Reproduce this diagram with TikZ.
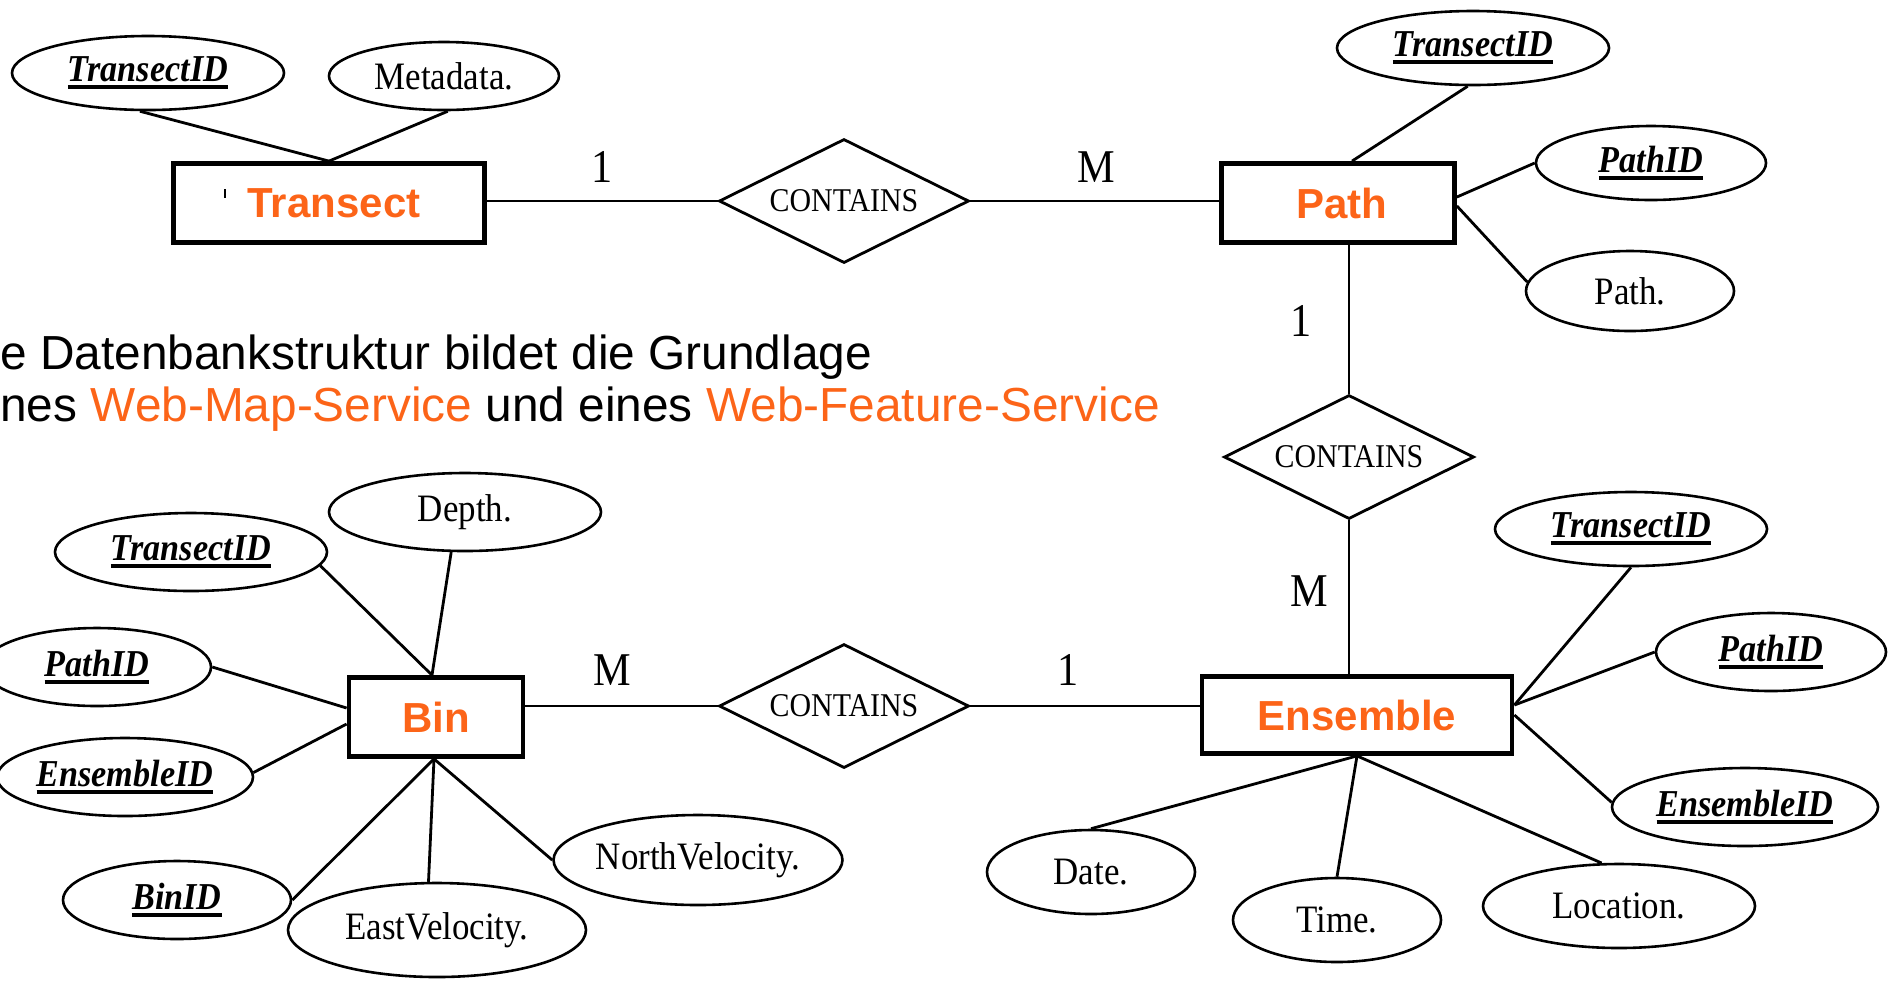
\documentclass[tikz,border=0pt]{standalone}
\usepackage{fontspec}
\setmainfont[FakeStretch=0.9]{Liberation Serif}
\newfontfamily\arialfont{Liberation Sans}
\usetikzlibrary{shapes.geometric}
\definecolor{entorange}{RGB}{252,100,24}

% thick underline for key attributes
\newcommand\keyul[1]{\setbox0\hbox{#1}\rlap{\rule[-3.8pt]{\wd0}{2pt}}\box0}

\begin{document}
\begin{tikzpicture}[x=0.5pt,y=-0.5pt,
  attr/.style={ellipse, draw, line width=1.3pt, inner sep=0pt,
    font=\fontsize{19.4}{22}\selectfont},
  key/.style={attr, font=\fontsize{19}{22}\selectfont\bfseries\itshape},
  entity/.style={rectangle, draw, line width=2.4pt, inner sep=0pt,
    font=\arialfont\bfseries\fontsize{21}{24}\selectfont, text=entorange},
  rel/.style={diamond, draw, line width=1.4pt, aspect=2, inner sep=0pt,
    minimum width=125pt, minimum height=62pt,
    font=\fontsize{16.6}{18}\selectfont},
  card/.style={inner sep=0pt, font=\fontsize{23.5}{26}\selectfont},
  link/.style={line width=1.4pt},
  bodytext/.style={anchor=base west, inner sep=0pt,
    font=\arialfont\fontsize{23.9}{26}\selectfont}]
\useasboundingbox (0,0) rectangle (1899,987);

% ---- entities ----
\node[entity, minimum width=155.5pt, minimum height=39.5pt] (transect) at (329,203) {\hspace{5pt}Transect};
\node[entity, minimum width=116.5pt, minimum height=39.5pt] (path) at (1338,203) {\hspace{4pt}Path};
\node[entity, minimum width=155pt, minimum height=38.5pt] (ens) at (1357,715) {Ensemble\hspace{6pt}};
\node[entity, minimum width=87pt, minimum height=39.5pt] (bin) at (436,717) {Bin\hspace{6pt}};
\draw[line width=0.6pt] (transect.center) ++(-104,-14) coordinate (tick) -- ++(0,9);

% ---- relationships ----
\node[rel] (rel1) at (844,201) {CONTAINS};
\node[rel] (rel2) at (1349,457) {CONTAINS};
\node[rel] (rel3) at (844,706) {CONTAINS};

% ---- attributes: Transect ----
\node[key, minimum width=136pt, minimum height=37pt] (ttid) at (148,73) {\keyul{TransectID}};
\node[attr, minimum width=115pt, minimum height=34pt] (tmeta) at (444,76) {Metadata.};

% ---- attributes: Path ----
\node[key, minimum width=136pt, minimum height=37pt] (ptid) at (1473,48) {\keyul{TransectID}};
\node[key, minimum width=115pt, minimum height=37pt] (ppid) at (1651,163) {\keyul{PathID}};
\node[attr, minimum width=104pt, minimum height=40pt] (ppath) at (1630,291) {Path.};

% ---- attributes: Ensemble ----
\node[key, minimum width=136pt, minimum height=37pt] (etid) at (1631,529) {\keyul{TransectID}};
\node[key, minimum width=115pt, minimum height=39pt] (epid) at (1771,652) {\keyul{PathID}};
\node[key, minimum width=133pt, minimum height=39pt] (eeid) at (1745,807) {\keyul{EnsembleID}};
\node[attr, minimum width=104pt, minimum height=42pt] (edate) at (1091,872) {Date.};
\node[attr, minimum width=104pt, minimum height=42pt] (etime) at (1337,920) {Time.};
\node[attr, minimum width=136pt, minimum height=42pt] (eloc) at (1619,906) {Location.};

% ---- attributes: Bin ----
\node[attr, minimum width=136pt, minimum height=39pt] (bdepth) at (465,512) {Depth.};
\node[key, minimum width=136pt, minimum height=39pt] (btid) at (191,552) {\keyul{TransectID}};
\node[key, minimum width=114pt, minimum height=39pt] (bpid) at (97,667) {\keyul{PathID}};
\node[key, minimum width=128pt, minimum height=39pt] (beid) at (125,777) {\keyul{EnsembleID}};
\node[key, minimum width=114pt, minimum height=39pt] (bbid) at (177,900) {\keyul{BinID}};
\node[attr, minimum width=149pt, minimum height=47pt] (beast) at (437,930) {EastVelocity.};
\node[attr, minimum width=143pt, minimum height=45pt] (bnorth) at (698,860) {NorthVelocity.};

% ---- relationship connectors ----
\draw[link] (rel1.west) -- (rel1.west -| transect.east);
\draw[link] (rel1.east) -- (rel1.east -| path.west);
\draw[link] (rel2.north) -- (rel2.north |- path.south);
\draw[link] (rel2.south) -- (rel2.south |- ens.north);
\draw[link] (rel3.west) -- (rel3.west -| bin.east);
\draw[link] (rel3.east) -- (rel3.east -| ens.west);

% ---- cardinalities ----
\node[card] (c1) at (602,167) {1};
\node[card] (c2) at (1096,167) {M};
\node[card] (c3) at (1301,321) {1};
\node[card] (c4) at (1309,591) {M};
\node[card] (c5) at (1068,670) {1};
\node[card] (c6) at (612,670) {M};

% ---- attribute connectors ----
\draw[link] (ttid.258) -- (transect.north);
\draw[link] (tmeta.276) -- (transect.north);
\draw[link] (ptid.262) -- ([xshift=7pt]path.north);
\draw[link] (ppid.west) -- ([yshift=3pt]path.east);
\draw[link] (ppath.175) -- ([yshift=-1.5pt]path.east);
\draw[link] (etid.south) -- ([yshift=5pt]ens.east);
\draw[link] (epid.west) -- ([yshift=5pt]ens.east);
\draw[link] (eeid.178) -- (ens.east);
\draw[link] (edate.north) -- (ens.south);
\draw[link] (etime.north) -- (ens.south);
\draw[link] (eloc.112) -- (ens.south);
\draw[link] (btid.354) -- ([xshift=-2pt]bin.north);
\draw[link] (bdepth.251) -- ([xshift=-2pt]bin.north);
\draw[link] (bpid.east) -- ([yshift=4.5pt]bin.west);
\draw[link] (beid.2) -- ([yshift=-3.5pt]bin.west);
\draw[link] (bbid.east) -- ([xshift=-1pt]bin.south);
\draw[link] (beast.100) -- ([xshift=-1pt]bin.south);
\draw[link] (bnorth.west) -- ([xshift=-1pt]bin.south);

% ---- caption text ----
\node[bodytext] (txt1) at (0,369) {e Datenbankstruktur bildet die Grundlage};
\node[bodytext] (txt2) at (0,421) {nes \textcolor{entorange}{Web-Map-Service} und eines \textcolor{entorange}{Web-Feature-Service}};
\end{tikzpicture}
\end{document}
